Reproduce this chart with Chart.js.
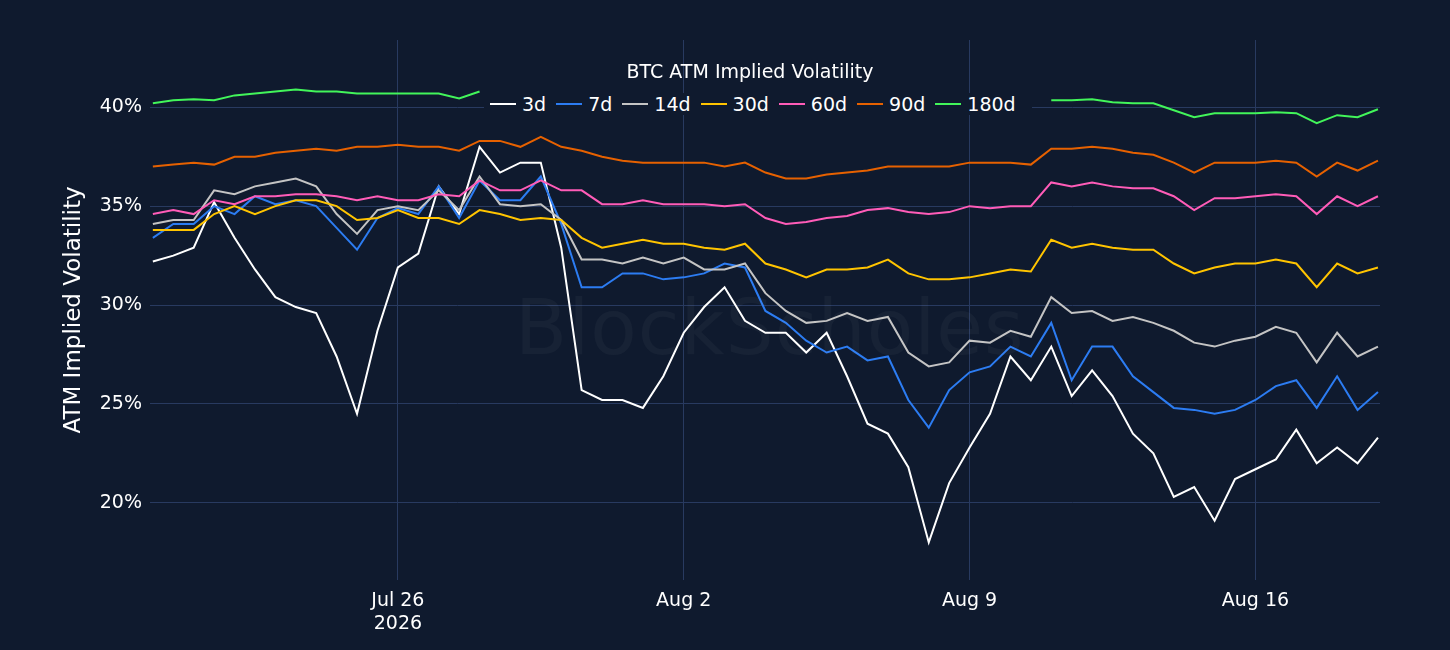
<!DOCTYPE html>
<html>
<head>
<meta charset="utf-8">
<script src="https://cdn.jsdelivr.net/npm/chart.js@4.4.1/dist/chart.umd.min.js"></script>
<style>
  body { margin: 0; background: #0f1a2e; font-family: 'DejaVu Sans', sans-serif; }
  #wrap { position: relative; width: 1450px; height: 650px; }
  #title { position: absolute; top: 60px; left: 0; width: 1500px; text-align: center; color: #fff; font-size: 19px; }
  #legend { position: absolute; top: 93px; left: 484px; color: #fff; font-size: 19px; display: flex; background: #0f1a2e; padding: 0 6px; }
  #legend span { display: flex; align-items: center; margin-right: 10px; }
  #legend i { display: inline-block; width: 26px; height: 2px; margin-right: 6px; }
  #mark { position: absolute; left: 515px; top: 283px; font-size: 76px; color: rgba(255,255,255,0.035); letter-spacing: 1px; }
</style>
</head>
<body>
<div id="wrap">
  <canvas id="c" width="1450" height="650"></canvas>
  <div id="mark">BlockScholes</div>
  <div id="title">BTC ATM Implied Volatility</div>
  <div id="legend"></div>
</div>
<script>
// days since Jul 20 2026 00:00, 12h steps
var days = []
for (var k = 0; k <= 60; k++) days.push(k / 2)

var tickDays = [6, 13, 20, 27]
var tickLabels = [['Jul 26', '2026'], 'Aug 2', 'Aug 9', 'Aug 16']
var yTicks = [20, 25, 30, 35, 40]

var names = ['3d', '7d', '14d', '30d', '60d', '90d', '180d']
var colors = ['#ffffff', '#2c7cf2', '#c4c4c4', '#ffc400', '#ff5cb8', '#e66100', '#42f55a']

var v3d = [32.2,32.5,32.9,35.2,33.4,31.8,30.4,29.9,29.6,27.4,24.5,28.7,31.9,32.6,36.0,34.6,38.0,36.7,37.2,37.2,32.9,
  25.7,25.2,25.2,24.8,26.4,28.6,29.9,30.9,29.2,28.6,28.6,27.6,28.6,26.4,24.0,23.5,21.8,18.0,21.0,22.8,
  24.5,27.4,26.2,27.9,25.4,26.7,25.4,23.5,22.5,20.3,20.8,19.1,21.2,21.7,22.2,23.7,22.0,22.8,22.0,23.3]
var v7d = [33.4,34.1,34.1,35.0,34.6,35.5,35.1,35.3,35.0,33.9,32.8,34.4,34.9,34.6,36.0,34.4,36.3,35.3,35.3,36.5,34.1,
  30.9,30.9,31.6,31.6,31.3,31.4,31.6,32.1,31.9,29.7,29.1,28.2,27.6,27.9,27.2,27.4,25.2,23.8,25.7,26.6,
  26.9,27.9,27.4,29.1,26.2,27.9,27.9,26.4,25.6,24.8,24.7,24.5,24.7,25.2,25.9,26.2,24.8,26.4,24.7,25.6]
var v14d = [34.1,34.3,34.3,35.8,35.6,36.0,36.2,36.4,36.0,34.6,33.6,34.8,35.0,34.8,35.8,34.8,36.5,35.1,35.0,35.1,34.3,
  32.3,32.3,32.1,32.4,32.1,32.4,31.8,31.8,32.1,30.6,29.7,29.1,29.2,29.6,29.2,29.4,27.6,26.9,27.1,28.2,
  28.1,28.7,28.4,30.4,29.6,29.7,29.2,29.4,29.1,28.7,28.1,27.9,28.2,28.4,28.9,28.6,27.1,28.6,27.4,27.9]
var v30d = [33.8,33.8,33.8,34.6,35.0,34.6,35.0,35.3,35.3,35.0,34.3,34.4,34.8,34.4,34.4,34.1,34.8,34.6,34.3,34.4,34.3,
  33.4,32.9,33.1,33.3,33.1,33.1,32.9,32.8,33.1,32.1,31.8,31.4,31.8,31.8,31.9,32.3,31.6,31.3,31.3,31.4,
  31.6,31.8,31.7,33.3,32.9,33.1,32.9,32.8,32.8,32.1,31.6,31.9,32.1,32.1,32.3,32.1,30.9,32.1,31.6,31.9]
var v60d = [34.6,34.8,34.6,35.3,35.1,35.5,35.5,35.6,35.6,35.5,35.3,35.5,35.3,35.3,35.6,35.5,36.3,35.8,35.8,36.3,35.8,
  35.8,35.1,35.1,35.3,35.1,35.1,35.1,35.0,35.1,34.4,34.1,34.2,34.4,34.5,34.8,34.9,34.7,34.6,34.7,35.0,
  34.9,35.0,35.0,36.2,36.0,36.2,36.0,35.9,35.9,35.5,34.8,35.4,35.4,35.5,35.6,35.5,34.6,35.5,35.0,35.5]
var v90d = [37.0,37.1,37.2,37.1,37.5,37.5,37.7,37.8,37.9,37.8,38.0,38.0,38.1,38.0,38.0,37.8,38.3,38.3,38.0,38.5,38.0,
  37.8,37.5,37.3,37.2,37.2,37.2,37.2,37.0,37.2,36.7,36.4,36.4,36.6,36.7,36.8,37.0,37.0,37.0,37.0,37.2,
  37.2,37.2,37.1,37.9,37.9,38.0,37.9,37.7,37.6,37.2,36.7,37.2,37.2,37.2,37.3,37.2,36.5,37.2,36.8,37.3]
var v180d = [40.2,40.35,40.4,40.35,40.6,40.7,40.8,40.9,40.8,40.8,40.7,40.7,40.7,40.7,40.7,40.45,40.8,
  null,null,null,null,null,null,null,null,null,null,null,null,null,null,null,null,null,null,null,null,null,null,null,null,null,null,null,
  40.35,40.35,40.4,40.25,40.2,40.2,39.85,39.5,39.7,39.7,39.7,39.75,39.7,39.2,39.6,39.5,39.9]

var series = [v3d, v7d, v14d, v30d, v60d, v90d, v180d]

var legendEl = document.getElementById('legend')
names.forEach(function (n, i) {
  var s = document.createElement('span')
  s.innerHTML = '<i style="background:' + colors[i] + '"></i>' + n
  legendEl.appendChild(s)
})

var datasets = series.map(function (vals, i) {
  return {
    label: names[i],
    data: vals.map(function (v, j) { return { x: days[j], y: v } }),
    borderColor: colors[i],
    borderWidth: 2,
    pointRadius: 0,
    tension: 0,
    spanGaps: false
  }
}).reverse()

var grid = '#283a60'
new Chart(document.getElementById('c'), {
  type: 'line',
  data: { datasets: datasets },
  options: {
    responsive: false,
    animation: false,
    layout: { padding: { top: 40, right: 70, left: 56, bottom: 0 } },
    plugins: { legend: { display: false }, tooltip: { enabled: false } },
    scales: {
      x: {
        type: 'linear', min: -0.07, max: 30.05,
        grid: { color: grid, drawTicks: false },
        border: { display: false },
        afterBuildTicks: function (s) { s.ticks = tickDays.map(function (d) { return { value: d } }) },
        afterFit: function (s) { s.height = 70 },
        ticks: {
          color: '#fff', font: { size: 19, family: 'DejaVu Sans' }, padding: 10, maxRotation: 0,
          callback: function (v) { return tickLabels[tickDays.indexOf(v)] }
        }
      },
      y: {
        min: 16.1, max: 43.4,
        grid: { color: grid, drawTicks: false },
        border: { display: false },
        afterBuildTicks: function (s) { s.ticks = yTicks.map(function (d) { return { value: d } }) },
        afterFit: function (s) { s.width = 94 },
        title: { display: true, text: 'ATM Implied Volatility', color: '#fff', font: { size: 23, family: 'DejaVu Sans' } },
        ticks: {
          color: '#fff', font: { size: 19, family: 'DejaVu Sans' }, padding: 8,
          callback: function (v) { return v + '%' }
        }
      }
    }
  }
})
</script>
</body>
</html>
